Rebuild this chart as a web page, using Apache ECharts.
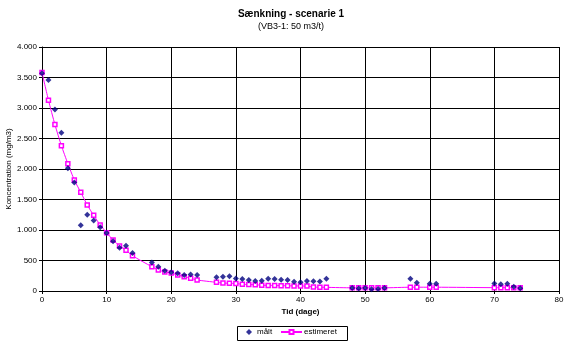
<!DOCTYPE html>
<html><head><meta charset="utf-8">
<script src="https://cdn.jsdelivr.net/npm/echarts@6/dist/echarts.min.js"></script>
<style>html,body{margin:0;padding:0;background:#fff}#c{width:568px;height:347px}</style>
</head><body><div id="c"></div>
<script>
var days = [0,1,2,3,4,5,6,7,8,9,10,11,12,13,14,17,18,19,20,21,22,23,24,27,28,29,30,31,32,33,34,35,36,37,38,39,40,41,42,43,44,48,49,50,51,52,53,57,58,60,61,70,71,72,73,74];
var maalt = [3570,3460,2975,2595,2012,1778,1078,1248,1155,1045,952,815,708,740,622,466,398,330,306,290,262,270,263,225,232,240,204,196,180,165,170,200,196,186,180,150,142,165,160,155,200,50,42,50,30,32,50,200,135,120,120,122,110,120,70,45];
var estimeret = [3580,3128,2728,2382,2088,1820,1618,1410,1240,1084,956,836,738,668,578,398,344,311,295,262,235,209,180,142,131,126,123,110,106,102,95,92,90,88,86,84,82,80,64,62,60,52,52,52,52,52,52,62,62,62,62,55,55,55,55,55];
var xTicks = {min:0, max:80, interval:10};
var yTicks = {min:0, max:4000, interval:500};

var mData = days.map(function(d,i){return [d, maalt[i]];});
var eData = days.map(function(d,i){return [d, estimeret[i]];});
var font = 'Liberation Sans, Arial, sans-serif';
function fmt(v){ var s = String(v); return s.length>3 ? s.slice(0,s.length-3)+'.'+s.slice(-3) : s; }

var chart = echarts.init(document.getElementById('c'));
chart.setOption({
  animation:false,
  backgroundColor:'#fff',
  title:{
    text:'Sænkning - scenarie 1', subtext:'(VB3-1: 50 m3/t)',
    left:286, textAlign:'center', top:4, itemGap:3,
    textStyle:{fontFamily:font, fontSize:10, fontWeight:'bold', color:'#000'},
    subtextStyle:{fontFamily:font, fontSize:9, color:'#000'}
  },
  legend:[{
    data:[{name:'målt', icon:'diamond'}], left:246, top:328, padding:0,
    itemWidth:6, itemHeight:6, itemGap:4,
    textStyle:{fontFamily:font, fontSize:8, color:'#000', padding:[0,0,0,0]}
  },{
    data:['estimeret'], left:280, top:328, padding:0,
    itemWidth:21, itemHeight:5, itemGap:4,
    textStyle:{fontFamily:font, fontSize:8, color:'#000', padding:[0,0,0,-3]}
  }],
  graphic:[{type:'rect', shape:{x:237.5, y:326.5, width:110, height:14},
    style:{fill:'none', stroke:'#000', lineWidth:1}, z:0}],
  grid:{left:42, right:9, top:47, bottom:56, outerBoundsMode:'none', containLabel:false},
  xAxis:{
    type:'value', min:xTicks.min, max:xTicks.max, interval:xTicks.interval,
    name:'Tid (dage)', nameLocation:'middle', nameGap:17, nameMoveOverlap:false,
    nameTextStyle:{fontFamily:font, fontSize:8, fontWeight:'bold', color:'#000'},
    axisLine:{lineStyle:{color:'#000', width:1}},
    axisTick:{show:true, length:3, lineStyle:{color:'#000'}},
    axisLabel:{fontFamily:font, fontSize:8, color:'#000', margin:5},
    splitLine:{show:true, lineStyle:{color:'#000', width:1}}
  },
  yAxis:{
    type:'value', min:yTicks.min, max:yTicks.max, interval:yTicks.interval,
    name:'Koncentration (mg/m3)', nameLocation:'middle', nameGap:29, nameMoveOverlap:false,
    nameTextStyle:{fontFamily:font, fontSize:8, color:'#000'},
    axisLine:{show:true, lineStyle:{color:'#000', width:1}},
    axisTick:{show:true, length:3, lineStyle:{color:'#000'}},
    axisLabel:{fontFamily:font, fontSize:8, color:'#000', margin:5, formatter:fmt},
    splitLine:{show:true, lineStyle:{color:'#000', width:1}}
  },
  series:[
    {name:'målt', type:'scatter', data:mData, symbol:'diamond', symbolSize:6,
     itemStyle:{color:'#000080'}, z:3},
    {name:'estimeret', type:'line', data:eData, symbol:'rect', symbolSize:4,
     showAllSymbol:true, smooth:0.2,
     lineStyle:{color:'#ff00ff', width:1},
     itemStyle:{color:'#ffffff', borderColor:'#ff00ff', borderWidth:1.5}, z:2}
  ]
});
</script></body></html>
